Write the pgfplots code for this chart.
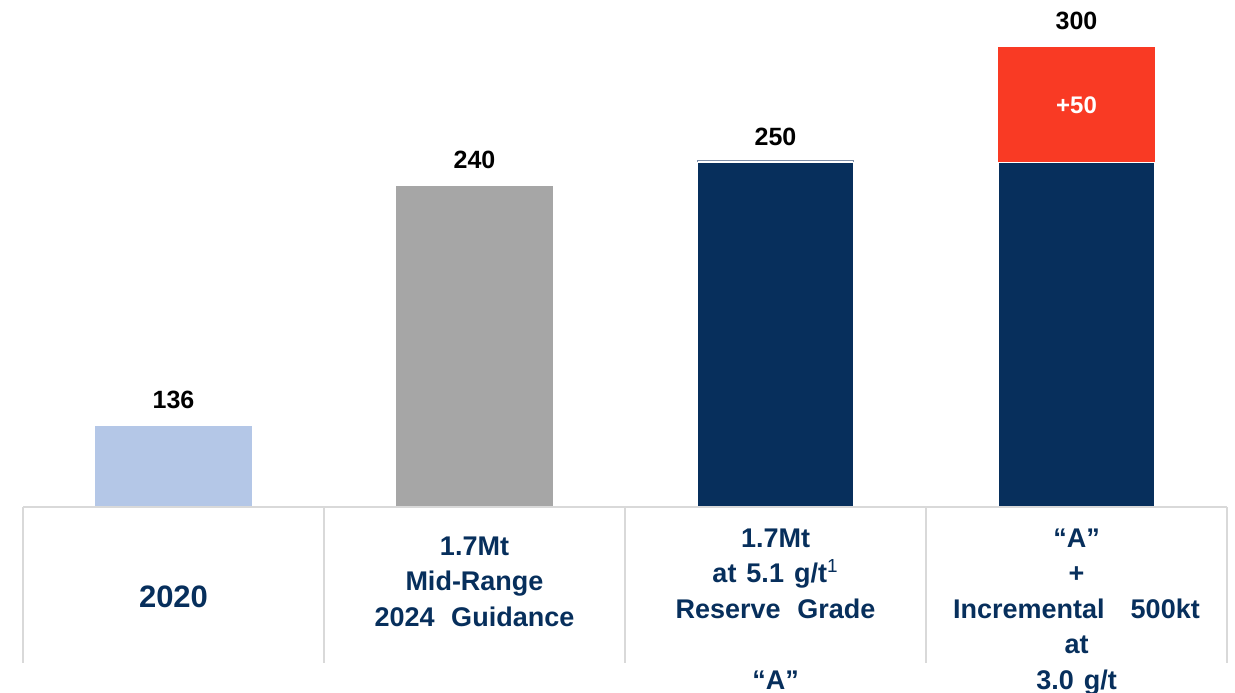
\documentclass[border=0pt]{standalone}
\usepackage{pgfplots}
\pgfplotsset{compat=1.18}
\usepackage{fontspec}
\setmainfont{Liberation Sans}
\newfontfamily\lab{Liberation Sans}[WordSpace=2.2]
\definecolor{navy}{HTML}{072F5C}
\definecolor{lblue}{HTML}{B4C7E7}
\definecolor{gbar}{HTML}{A6A6A6}
\definecolor{redbar}{HTML}{F93A24}
\definecolor{gridc}{HTML}{D9D9D9}
\definecolor{slate}{HTML}{7F8FA8}
\begin{document}
\begin{tikzpicture}
\useasboundingbox (-11.5pt,-92.5pt) rectangle (606pt,253.5pt);
\begin{axis}[
  at={(0,0)}, anchor=south west,
  scale only axis, width=602pt, height=253.5pt,
  xmin=-0.5, xmax=3.5, ymin=101, ymax=320.4,
  ybar, bar width=0.52, bar shift=0pt,
  clip mode=individual,
  axis line style={draw=none},
  ytick=\empty,
  xtick={0,1,2,3},
  major tick length=0pt,
  xticklabels={
    {\fontsize{15.5}{18}\selectfont\rule{0pt}{50pt}2020},
    {\rule{0pt}{24pt}1.7Mt\\Mid-Range\\2024 Guidance},
    {\rule{0pt}{20pt}1.7Mt\\at\hspace{5pt}5.1\hspace{5pt}g/t\textsuperscript{\mdseries 1}\\Reserve Grade\\[17.75pt]“A”},
    {\rule{0pt}{20pt}“A”\\+\\Incremental\hspace{13pt}500kt\\at\\3.0\hspace{5pt}g/t}
  },
  xticklabel style={anchor=north, inner sep=0pt, align=center, text=navy,
    font=\lab\bfseries\fontsize{13.5}{17.75}\selectfont},
]
\addplot[fill=lblue, draw=none] coordinates {(0,136)};
\addplot[fill=gbar, draw=none] coordinates {(1,240)};
\addplot[fill=redbar, draw=none] coordinates {(3,300)};
\addplot[fill=white, draw=slate, line width=0.5pt] coordinates {(2,251)};
\addplot[fill=navy, draw=white, line width=0.6pt] coordinates {(2,250) (3,250)};

\draw[gridc, line width=1pt] (rel axis cs:0,0) -- (rel axis cs:1,0);
\pgfplotsinvokeforeach{-0.5,0.5,1.5,2.5,3.5}{
  \draw[gridc, line width=1pt] (axis cs:#1,101) -- ([yshift=-78pt]axis cs:#1,101);
}
\begin{scope}[every node/.style={anchor=base, font=\bfseries\fontsize{12.5}{15}\selectfont, text=black, yshift=8.75pt, inner sep=0pt}]
\node at (axis cs:0,136) {136};
\node at (axis cs:1,240) {240};
\node at (axis cs:2,250) {250};
\node at (axis cs:3,300) {300};
\end{scope}
\node[font=\bfseries\fontsize{12}{14}\selectfont, text=white] at (axis cs:3,275) {+50};
\end{axis}
\end{tikzpicture}
\end{document}
